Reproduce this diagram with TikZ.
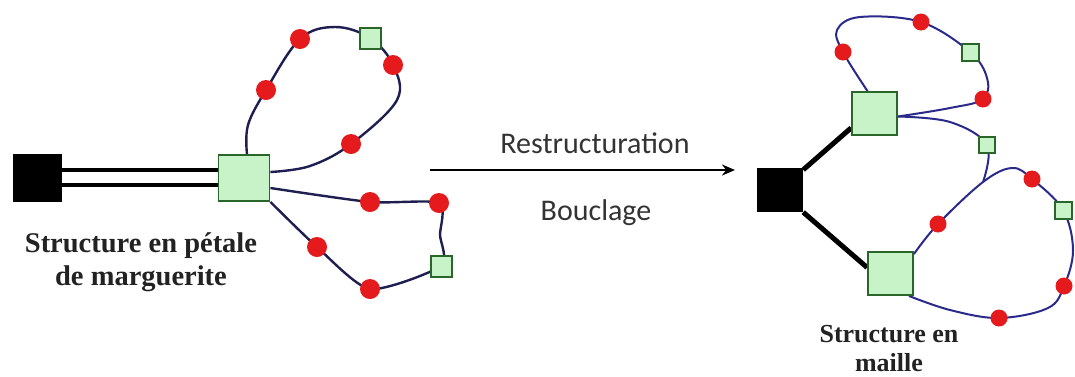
\documentclass[tikz,border=0pt]{standalone}
\usepackage{fontspec}
\setmainfont{Liberation Serif}
\newfontfamily\labelsans{Carlito}
\usetikzlibrary{arrows.meta}
\pgfdeclarelayer{bg}
\pgfsetlayers{bg,main}
\definecolor{gfill}{HTML}{C8F2C8}
\definecolor{gdraw}{HTML}{2A662A}
\definecolor{rdot}{HTML}{E41A1C}
\definecolor{wirea}{HTML}{1E1E50}
\definecolor{wireb}{HTML}{2A2A8A}
\definecolor{txt}{HTML}{222222}
\definecolor{txtb}{HTML}{333333}
\tikzset{
  srcbox/.style={rectangle, fill=black, inner sep=0pt},
  hubbox/.style={rectangle, draw=gdraw, fill=gfill, line width=1.8pt, inner sep=0pt},
  smallbox/.style={rectangle, draw=gdraw, fill=gfill, line width=2pt, inner sep=0pt, minimum size=#1},
  reddot/.style={circle, fill=rdot, inner sep=0pt, minimum size=#1},
  loopa/.style={draw=wirea, line width=2.4pt, smooth, tension=0.6},
  loopb/.style={draw=wireb, line width=2pt, smooth, tension=0.6},
  feeder/.style={draw=black, line width=5pt},
  serlabel/.style={font=\fontsize{28.5}{33}\selectfont\bfseries, text=txt, anchor=base, inner sep=0pt},
  sanslabel/.style={font=\labelsans\fontsize{30}{36}\selectfont, text=txtb, anchor=base, inner sep=0pt},
}
\begin{document}
\begin{tikzpicture}[x=1pt,y=-1pt]
\useasboundingbox (0,0) rectangle (1075,376);

% ---------- left: petal structure ----------
\node[srcbox, minimum width=49pt, minimum height=48pt] (S1) at (37.5,178) {};
\node[hubbox, minimum width=51pt, minimum height=46pt] (P) at (244,178) {};
\node[reddot=20pt] (r1) at (266,90) {};
\node[reddot=20pt] (r2) at (300,39) {};
\node[smallbox=21pt] (g1) at (370,38) {};
\node[reddot=20pt] (r3) at (393,65) {};
\node[reddot=20pt] (r4) at (351,144) {};
\node[reddot=20pt] (r5) at (370,202) {};
\node[reddot=20pt] (r6) at (439,203) {};
\node[smallbox=21pt] (g2) at (441,266) {};
\node[reddot=20pt] (r7) at (370,289) {};
\node[reddot=20pt] (r8) at (317,247) {};

\begin{pgfonlayer}{bg}
\draw[feeder, line width=4pt] ([yshift=8pt]S1.east) -- ([yshift=8pt]P.west);
\draw[feeder, line width=4pt] ([yshift=-7pt]S1.east) -- ([yshift=-7pt]P.west);
\draw[loopa] plot coordinates {([xshift=3pt]P.north) (248,125) (r1) (r2) (335,27) (g1) (r3) (397,100) (r4) (310,166) ([yshift=6pt]P.east)};
\draw[loopa, tension=0.4] plot coordinates {([yshift=-10pt]P.east) (r5) (r6) (440,235) (g2) (r7) (r8) (P.south east)};
\end{pgfonlayer}

\node[serlabel] (t1) at (141,252) {Structure en pétale};
\node[serlabel] (t2) at (141,285) {de marguerite};

% ---------- arrow ----------
\coordinate (aS) at (430,170);
\coordinate (aE) at (735,170);
\draw[line width=2.6pt, -{Stealth[length=13pt,width=11pt]}] (aS) -- (aE);
\node[sanslabel] (t3) at (595,153) {Restructuration};
\node[sanslabel] (t4) at (596,220) {Bouclage};

% ---------- right: mesh structure ----------
\node[srcbox, minimum width=46pt, minimum height=44pt] (S2) at (780,190) {};
\node[hubbox, minimum width=45pt, minimum height=43pt] (U) at (874.5,113.5) {};
\node[hubbox, minimum width=45pt, minimum height=43pt] (L) at (890.5,273.5) {};
\node[reddot=17pt] (a1) at (843,52) {};
\node[reddot=17pt] (a2) at (921,22) {};
\node[smallbox=17pt] (ga) at (970,52) {};
\node[reddot=17pt] (a3) at (983,99) {};
\node[smallbox=16pt] (gb) at (987,145) {};
\node[reddot=17pt] (b1) at (938,224) {};
\node[reddot=17pt] (b2) at (1032,179) {};
\node[smallbox=17pt] (gc) at (1063,210) {};
\node[reddot=17pt] (b3) at (1064,286) {};
\node[reddot=17pt] (b4) at (999,318) {};
\coordinate (J) at (983,182);

\begin{pgfonlayer}{bg}
\draw[feeder] ([yshift=-2pt]S2.north east) -- ([yshift=8pt]U.south west);
\draw[feeder] (S2.south east) -- ([yshift=6pt]L.west);
\draw[loopb] plot coordinates {([xshift=-7pt]U.north) (a1) (837,30) (860,17) (a2) (ga) (987,78) (a3) (950,108) ([yshift=-3pt]U.east)};
\draw[loopb] plot coordinates {([yshift=-3pt]U.east) (950,122) (gb) (J)};
\draw[loopb] plot coordinates {([yshift=-3pt]L.north east) (b1) (J) (1012,168) (b2) (gc) (1073,250) (b3) (1048,308) (b4) (950,310) ([xshift=-5pt]L.south east)};
\end{pgfonlayer}

\node[serlabel, font=\fontsize{26}{30}\selectfont\bfseries] (t5) at (889,342) {Structure en};
\node[serlabel, font=\fontsize{26}{30}\selectfont\bfseries] (t6) at (889,371) {maille};
\end{tikzpicture}
\end{document}
